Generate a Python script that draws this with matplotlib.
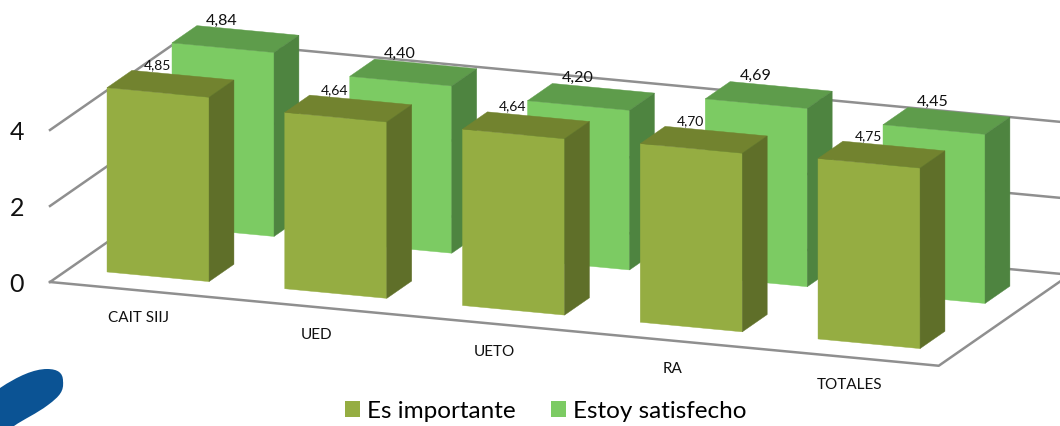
#!/usr/bin/env python3
"""3D-look clustered bars, drawn on a flat axes in image pixels."""
import matplotlib

matplotlib.use("Agg")
import matplotlib.pyplot as plt
from matplotlib.patches import Patch, PathPatch, Polygon
from matplotlib.path import Path

categories = ["CAIT SIIJ", "UED", "UETO", "RA", "TOTALES"]
importante = [4.85, 4.64, 4.64, 4.70, 4.75]
satisfecho = [4.84, 4.40, 4.20, 4.69, 4.45]
ticks = [0, 2, 4]

OLIVE = ("#95AD42", "#72832F", "#5F6F29")
GREEN = ("#7CCB63", "#5E9C4B", "#4E8440")
GRID = "#8F8F8F"
W, H = 1060, 426

plt.rcParams["font.family"] = ["Lato", "DejaVu Sans"]


def proj(u, v, z):
    # u = category axis, v = depth (0 front, 1 back), z = value
    return (50 + 177.75 * u + 131 * v, 282 + 16.75 * u - 91 * v - 38 * z)


def bar3d(ax, i, val, v0, colors, label, fs):
    u0, u1 = i + 0.211, i + 0.785
    v1 = v0 + 0.19
    front = [proj(u0, v0, 0), proj(u1, v0, 0), proj(u1, v0, val), proj(u0, v0, val)]
    side = [proj(u1, v0, 0), proj(u1, v1, 0), proj(u1, v1, val), proj(u1, v0, val)]
    top = [proj(u0, v0, val), proj(u1, v0, val), proj(u1, v1, val), proj(u0, v1, val)]
    for pts, c in zip((front, top, side), colors):
        ax.add_patch(Polygon(pts, closed=True, fc=c, ec=c, lw=0.3, zorder=2))
    x, y = proj(u0, v0, val)
    label.append((x + 50, y - 22.5, f"{val:.2f}".replace(".", ","), fs))


fig = plt.figure(figsize=(W / 100, H / 100), dpi=100)
ax = fig.add_axes([0, 0, 1, 1])
ax.set_xlim(0, W)
ax.set_ylim(H, 0)
ax.axis("off")

# walls and floor
for t in ticks:
    a, b, c = proj(0, 0, t), proj(0, 1, t), proj(5, 1, t)
    ax.plot([a[0], b[0], c[0]], [a[1], b[1], c[1]], color=GRID, lw=1.8, zorder=1)
    ax.text(a[0] - 33, a[1] + 3, str(t), fontsize=18, ha="center", va="center", color="#111111")
a, b, c = proj(0, 0, 0), proj(5, 0, 0), proj(5, 1, 0)
ax.plot([a[0], b[0], c[0]], [a[1], b[1], c[1]], color=GRID, lw=1.8, zorder=1)

# back row first, so the front row covers it
labels = []
for i, val in enumerate(satisfecho):
    bar3d(ax, i, val, 0.645, GREEN, labels, 11.5)
for i, val in enumerate(importante):
    bar3d(ax, i, val, 0.149, OLIVE, labels, 10)
for x, y, s, fs in labels:
    ax.text(x, y, s, fontsize=fs, ha="center", va="center", color="#111111", zorder=3)

for i, cat in enumerate(categories):
    x, y = proj(i + 0.5, 0, 0)
    ax.text(x, y + 28, cat, fontsize=11, ha="center", va="center", color="#111111")

# logo fragment in the corner
blob = Path([(0, 388), (18, 376), (34, 369), (47, 369), (58, 369), (63, 373), (63, 381),
             (64, 391), (60, 396), (48, 405), (36, 414), (24, 419), (14, 426), (0, 426), (0, 388)],
            [Path.MOVETO] + [Path.CURVE4] * 12 + [Path.LINETO, Path.CLOSEPOLY])
ax.add_patch(PathPatch(blob, fc="#0B5394", ec="none"))

handles = [Patch(fc=OLIVE[0], label="Es importante"), Patch(fc=GREEN[0], label="Estoy satisfecho")]
ax.legend(handles=handles, ncol=2, frameon=False, fontsize=17.5, loc="center",
          bbox_to_anchor=(546 / W, 1 - 411 / H), handlelength=0.62, handleheight=0.62,
          handletextpad=0.3, columnspacing=1.44, borderpad=0, borderaxespad=0)

fig.savefig("out.png", dpi=100)
